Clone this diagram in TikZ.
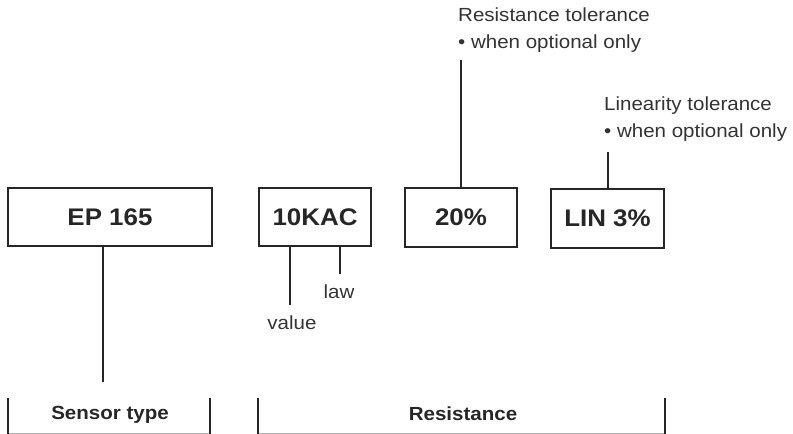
\documentclass[tikz,border=0pt]{standalone}
\usepackage{fontspec}
\setmainfont{Liberation Sans}[FakeStretch=1.08]
\tikzset{
  codebox/.style={draw=black!85, line width=2.6pt, inner sep=0pt, font=\fontsize{24}{28}\selectfont\bfseries, text=black!85},
  lead/.style={draw=black!85, line width=2.6pt},
  note/.style={inner sep=0pt, font=\fontsize{19}{26.6}\selectfont, text=black!80, align=left},
  cat/.style={inner sep=0pt, font=\fontsize{19}{22}\selectfont\bfseries, text=black!85},
}
\begin{document}
\begin{tikzpicture}[x=1pt,y=-1pt]
\useasboundingbox (0,0) rectangle (793,434);
% boxes
\node[codebox, minimum width=204pt, minimum height=58pt] (ep) at (110,217) {EP 165};
\node[codebox, minimum width=112pt, minimum height=58pt] (kac) at (315,217) {10KAC};
\node[codebox, minimum width=112pt, minimum height=59pt] (tol) at (461,217.5) {20\%};
\node[codebox, minimum width=113pt, minimum height=59pt] (lin) at (607.5,218.5) {LIN 3\%};
% notes
\node[note, anchor=north west] (rt) at (458,8) {Resistance tolerance\\• when optional only};
\node[note, anchor=north west] (lt) at (604,97) {Linearity tolerance\\• when optional only};
\node[note] (val) at (292,323) {value};
\node[note] (law) at (339,292) {law};
% categories
\node[cat] (st) at (110,415) {Sensor type};
\node[cat] (res) at (463,414) {Resistance};
% connectors
\coordinate (epend) at (103,382);
\draw[lead] (epend |- ep.south) -- (epend);
\coordinate (valtop) at (290,305);
\draw[lead] (valtop |- kac.south) -- (valtop);
\coordinate (lawtop) at (340,274);
\draw[lead] (lawtop |- kac.south) -- (lawtop);
\coordinate (rtend) at (461,60);
\draw[lead] (tol.north) -- (rtend);
\coordinate (ltend) at (608,152);
\draw[lead] (ltend |- lin.north) -- (ltend);
% bracket ticks
\coordinate (a1) at (8,398); \coordinate (a2) at (8,434);
\coordinate (b1) at (210,398); \coordinate (b2) at (210,434);
\coordinate (c1) at (258,398); \coordinate (c2) at (258,434);
\coordinate (d1) at (665,398); \coordinate (d2) at (665,434);
\draw[black!30, line width=1pt] (8,433.5) -- (210,433.5) (258,433.5) -- (665,433.5);
\draw[lead] (a1) -- (a2) (b1) -- (b2) (c1) -- (c2) (d1) -- (d2);
\end{tikzpicture}
\end{document}
